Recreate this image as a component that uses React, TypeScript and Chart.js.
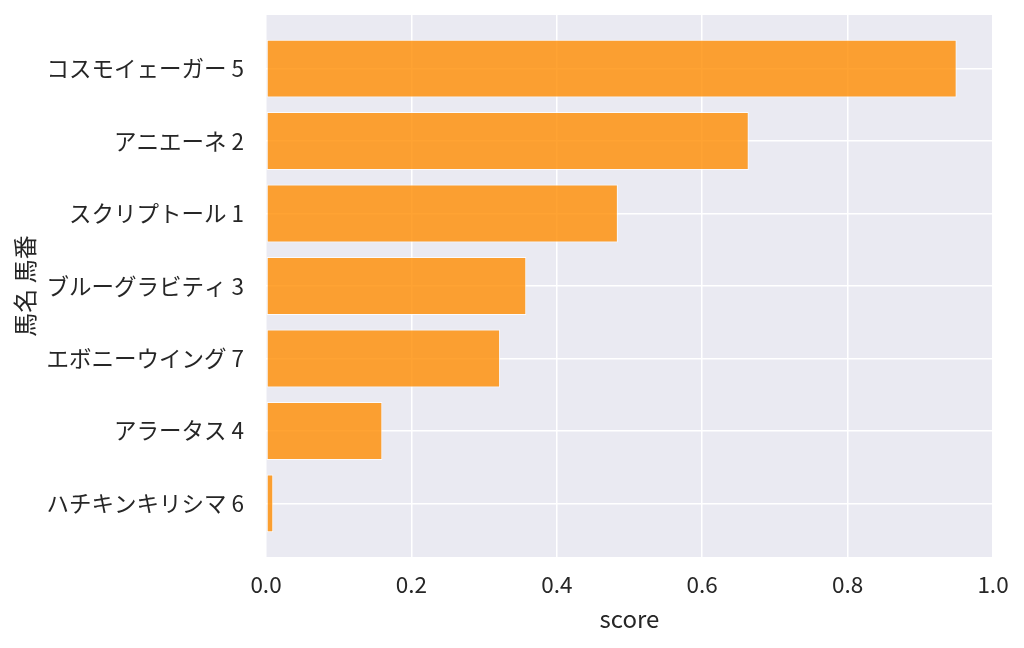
import { useEffect, useRef } from "react";
import { Chart, registerables } from "chart.js";

Chart.register(...registerables);

// horse labels (top to bottom) and their scores
const horses = [
  "コスモイェーガー 5",
  "アニエーネ 2",
  "スクリプトール 1",
  "ブルーグラビティ 3",
  "エボニーウイング 7",
  "アラータス 4",
  "ハチキンキリシマ 6",
];
const scores = [0.95, 0.664, 0.484, 0.358, 0.322, 0.16, 0.01];
const xTicks = [0, 0.2, 0.4, 0.6, 0.8, 1.0];

const FONT = "'Noto Sans CJK JP', 'Noto Sans', sans-serif";
const TEXT = "#262626";

export default function App() {
  const canvasRef = useRef<HTMLCanvasElement>(null);

  useEffect(() => {
    document.body.style.margin = "0";
    const ctx = canvasRef.current?.getContext("2d");
    if (!ctx) return;

    // background for the plot area
    const bgPlugin = {
      id: "plotBg",
      beforeDraw(chart: Chart) {
        const { ctx, chartArea } = chart;
        ctx.save();
        ctx.fillStyle = "#eaeaf2";
        ctx.fillRect(
          chartArea.left,
          chartArea.top,
          chartArea.right - chartArea.left,
          chartArea.bottom - chartArea.top
        );
        ctx.restore();
      },
    };

    const chart = new Chart(ctx, {
      type: "bar",
      data: {
        datasets: [
          {
            data: scores.map((v, i) => ({ x: v, y: i })),
            backgroundColor: "rgba(255, 140, 0, 0.8)",
            borderColor: "rgba(255, 255, 255, 0.8)",
            borderWidth: 1,
            borderSkipped: false,
            barPercentage: 0.8,
            categoryPercentage: 1,
          },
        ],
      },
      options: {
        indexAxis: "y",
        animation: false,
        responsive: true,
        maintainAspectRatio: false,
        layout: { padding: { top: 15, right: 31, left: 0, bottom: 0 } },
        plugins: {
          legend: { display: false },
          tooltip: { enabled: false },
        },
        scales: {
          x: {
            type: "linear",
            min: 0,
            max: 1,
            afterBuildTicks: (axis: any) => {
              axis.ticks = xTicks.map((v) => ({ value: v }));
            },
            afterFit: (axis: any) => {
              axis.height = 91;
              axis.paddingLeft = 0;
              axis.paddingRight = 0;
            },
            border: { display: false },
            grid: { color: "#ffffff", lineWidth: 1.5, drawTicks: false },
            ticks: {
              padding: 14,
              color: TEXT,
              font: { family: FONT, size: 22.5 },
              callback: (v: any) => Number(v).toFixed(1),
            },
            title: {
              display: true,
              text: "score",
              color: TEXT,
              font: { family: FONT, size: 24 },
              padding: { top: 0, bottom: 15 },
            },
          },
          y: {
            type: "linear",
            reverse: true,
            offset: false,
            min: -0.74,
            max: horses.length - 1 + 0.74,
            afterBuildTicks: (axis: any) => {
              axis.ticks = horses.map((_, i) => ({ value: i }));
            },
            afterFit: (axis: any) => {
              axis.width = 266;
              axis.paddingTop = 0;
              axis.paddingBottom = 0;
            },
            border: { display: false },
            grid: {
              color: "#ffffff",
              lineWidth: 1.5,
              drawTicks: false,
              offset: false,
            },
            ticks: {
              padding: 22,
              color: TEXT,
              font: { family: FONT, size: 22.5 },
              callback: (v: any) => horses[Math.round(Number(v))] ?? "",
            },
            title: {
              display: true,
              text: "馬名 馬番",
              color: TEXT,
              font: { family: FONT, size: 24 },
              padding: { top: 10, bottom: 0 },
            },
          },
        },
      },
      plugins: [bgPlugin],
    });

    return () => chart.destroy();
  }, []);

  return (
    <div style={{ width: 1024, height: 648, position: "relative" }}>
      <canvas ref={canvasRef}></canvas>
    </div>
  );
}
